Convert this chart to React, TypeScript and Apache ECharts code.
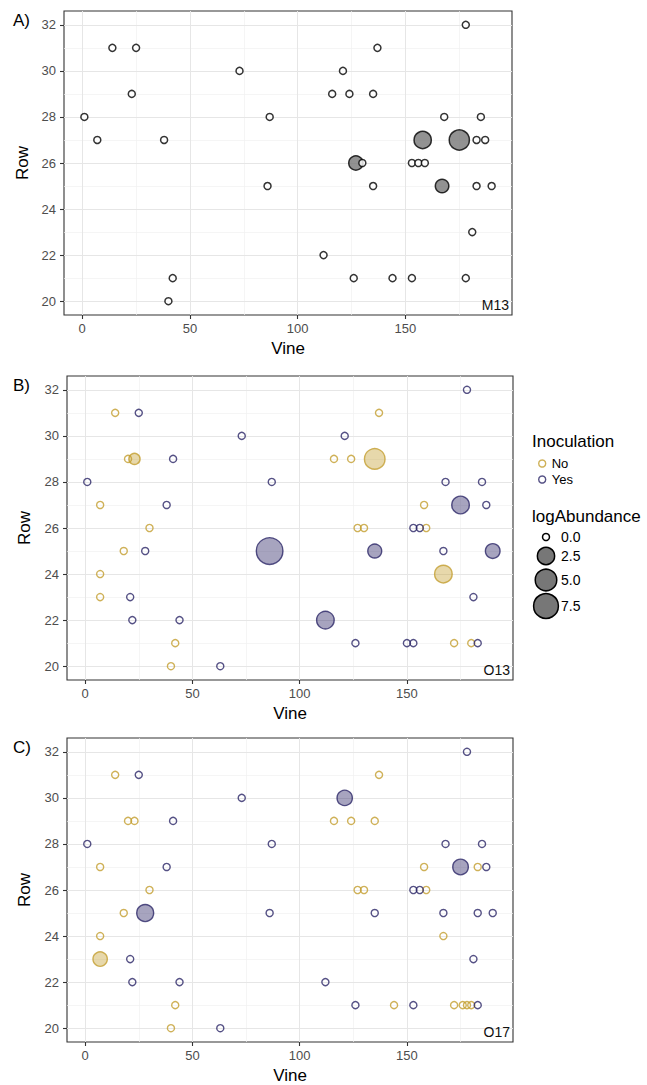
import { useEffect, useRef } from "react";
import * as echarts from "echarts";

// ---------- Panel A (M13) ----------
const vineA = [14, 25, 73, 23, 1, 87, 7, 38, 86, 42, 40, 178, 137, 121, 116, 124, 135, 168, 185, 158, 175, 183, 187, 127, 130, 153, 156, 159, 135, 167, 183, 190, 181, 112, 126, 144, 153, 178];
const rowA = [31, 31, 30, 29, 28, 28, 27, 27, 25, 21, 20, 32, 31, 30, 29, 29, 29, 28, 28, 27, 27, 27, 27, 26, 26, 26, 26, 26, 25, 25, 25, 25, 23, 22, 21, 21, 21, 21];
const logA = [0, 0, 0, 0, 0, 0, 0, 0, 0, 0, 0, 0, 0, 0, 0, 0, 0, 0, 0, 2.5, 4.1, 0, 0, 1.25, 0, 0, 0, 0, 0, 1.0, 0, 0, 0, 0, 0, 0, 0, 0];

// ---------- Panel B (O13) ----------
const vineB = [14, 20, 23, 7, 30, 18, 7, 7, 42, 40, 137, 116, 124, 135, 158, 127, 130, 159, 167, 172, 180,
  25, 73, 41, 1, 87, 38, 28, 86, 21, 22, 44, 63, 178, 121, 168, 185, 175, 187, 153, 156, 135, 167, 190, 181, 112, 126, 150, 153, 183];
const rowB = [31, 29, 29, 27, 26, 25, 24, 23, 21, 20, 31, 29, 29, 29, 27, 26, 26, 26, 24, 21, 21,
  31, 30, 29, 28, 28, 27, 25, 25, 23, 22, 22, 20, 32, 30, 28, 28, 27, 27, 26, 26, 25, 25, 25, 23, 22, 21, 21, 21, 21];
const logB = [0, 0, 0.4, 0, 0, 0, 0, 0, 0, 0, 0, 0, 0, 4.3, 0, 0, 0, 0, 2.6, 0, 0,
  0, 0, 0, 0, 0, 0, 0, 9, 0, 0, 0, 0, 0, 0, 0, 0, 2.6, 0, 0, 0, 1.1, 0, 1.35, 0, 2.6, 0, 0, 0, 0];
const inocB = ["No", "No", "No", "No", "No", "No", "No", "No", "No", "No", "No", "No", "No", "No", "No", "No", "No", "No", "No", "No", "No",
  "Yes", "Yes", "Yes", "Yes", "Yes", "Yes", "Yes", "Yes", "Yes", "Yes", "Yes", "Yes", "Yes", "Yes", "Yes", "Yes", "Yes", "Yes", "Yes", "Yes", "Yes", "Yes", "Yes", "Yes", "Yes", "Yes", "Yes", "Yes", "Yes"];

// ---------- Panel C (O17) ----------
const vineC = [14, 20, 23, 7, 30, 18, 7, 7, 42, 40, 137, 116, 124, 135, 158, 183, 127, 130, 159, 167, 144, 172, 176, 178, 180,
  25, 73, 41, 1, 87, 38, 28, 86, 21, 22, 44, 63, 178, 121, 168, 185, 175, 187, 153, 156, 135, 167, 183, 190, 181, 112, 126, 153, 183];
const rowC = [31, 29, 29, 27, 26, 25, 24, 23, 21, 20, 31, 29, 29, 29, 27, 27, 26, 26, 26, 24, 21, 21, 21, 21, 21,
  31, 30, 29, 28, 28, 27, 25, 25, 23, 22, 22, 20, 32, 30, 28, 28, 27, 27, 26, 26, 25, 25, 25, 25, 23, 22, 21, 21, 21];
const logC = [0, 0, 0, 0, 0, 0, 0, 1.25, 0, 0, 0, 0, 0, 0, 0, 0, 0, 0, 0, 0, 0, 0, 0, 0, 0,
  0, 0, 0, 0, 0, 0, 2.3, 0, 0, 0, 0, 0, 0, 1.6, 0, 0, 1.7, 0, 0, 0, 0, 0, 0, 0, 0, 0, 0, 0, 0];
const inocC = ["No", "No", "No", "No", "No", "No", "No", "No", "No", "No", "No", "No", "No", "No", "No", "No", "No", "No", "No", "No", "No", "No", "No", "No", "No",
  "Yes", "Yes", "Yes", "Yes", "Yes", "Yes", "Yes", "Yes", "Yes", "Yes", "Yes", "Yes", "Yes", "Yes", "Yes", "Yes", "Yes", "Yes", "Yes", "Yes", "Yes", "Yes", "Yes", "Yes", "Yes", "Yes", "Yes", "Yes", "Yes"];

// ---------- axes / legend ----------
const xMajor = [0, 50, 100, 150];
const xMinor = [25, 75, 125, 175];
const yMajor = [20, 22, 24, 26, 28, 30, 32];
const yMinor = [21, 23, 25, 27, 29, 31];
const inocLevels = ["No", "Yes"];
const sizeBreaks = [0, 2.5, 5, 7.5];
const sizeBreakLabels = ["0.0", "2.5", "5.0", "7.5"];
const panelTags = ["A)", "B)", "C)"];
const siteLabels = ["M13", "O13", "O17"];

const X_MIN = -8.45;
const X_MAX = 199.45;
const Y_MIN = 19.4;
const Y_MAX = 32.6;

const FONT = '"Liberation Sans", Arial, Helvetica, sans-serif';
const STROKE: Record<string, string> = { No: "#c39e2e", Yes: "#2b2566" };
const FILL: Record<string, string> = { No: "rgba(195,158,46,0.5)", Yes: "rgba(43,37,102,0.52)" };
const SW = 1.4;
const diam = (v: number) => 8.5 + 6.5 * Math.sqrt(v);

const grids = [
  { left: 64, top: 11, width: 448, height: 304 },
  { left: 67, top: 376, width: 446, height: 304 },
  { left: 67, top: 738, width: 446, height: 304 },
];

function buildItems(vines: number[], rows: number[], logs: number[], stroke: string, fill: string, emptyFill: string, keep: (i: number) => boolean, sw: number) {
  const items: any[] = [];
  vines.forEach((v, i) => {
    if (!keep(i)) return;
    const l = logs[i];
    items.push({
      value: [v, rows[i], l],
      symbolSize: diam(l) - sw,
      itemStyle: { color: l > 0 ? fill : emptyFill, borderColor: stroke, borderWidth: sw },
    });
  });
  items.sort((a, b) => b.value[2] - a.value[2]);
  return items;
}

function buildOption() {
  const xAxis = grids.map((_, i) => ({
    type: "value",
    gridIndex: i,
    min: X_MIN,
    max: X_MAX,
    name: "Vine",
    nameLocation: "middle",
    nameGap: 25,
    nameTextStyle: { fontSize: 17, color: "#000", fontFamily: FONT },
    axisLine: { show: false, onZero: false },
    axisTick: { show: true, length: 4, customValues: xMajor, lineStyle: { color: "#333", width: 1.1 } },
    axisLabel: { customValues: xMajor, color: "#4d4d4d", fontSize: 13, fontFamily: FONT, margin: 7 },
    splitLine: { show: false },
  }));
  const yAxis = grids.map((_, i) => ({
    type: "value",
    gridIndex: i,
    min: Y_MIN,
    max: Y_MAX,
    name: "Row",
    nameLocation: "middle",
    nameRotate: 90,
    nameGap: i === 0 ? 31 : 34,
    nameTextStyle: { fontSize: 17, color: "#000", fontFamily: FONT },
    axisLine: { show: false, onZero: false },
    axisTick: { show: true, length: 4, customValues: yMajor, lineStyle: { color: "#333", width: 1.1 } },
    axisLabel: { customValues: yMajor, color: "#4d4d4d", fontSize: 13, fontFamily: FONT, margin: 8 },
    splitLine: { show: false },
  }));

  const major = { color: "#e6e6e6", width: 1, type: "solid" };
  const minor = { color: "#f1f1f1", width: 0.7, type: "solid" };
  const gridLineData = [
    ...xMinor.map((v) => ({ xAxis: v, lineStyle: minor })),
    ...yMinor.map((v) => ({ yAxis: v, lineStyle: minor })),
    ...xMajor.map((v) => ({ xAxis: v, lineStyle: major })),
    ...yMajor.map((v) => ({ yAxis: v, lineStyle: major })),
  ];

  const series: any[] = [];
  grids.forEach((_, i) => {
    series.push({
      type: "scatter",
      name: "grid" + i,
      xAxisIndex: i,
      yAxisIndex: i,
      data: [],
      silent: true,
      z: 1,
      markLine: {
        silent: true,
        z: 1,
        symbol: ["none", "none"],
        label: { show: false },
        animation: false,
        data: gridLineData,
      },
    });
  });

  series.push({
    type: "scatter",
    name: "M13",
    xAxisIndex: 0,
    yAxisIndex: 0,
    z: 3,
    data: buildItems(vineA, rowA, logA, "#000", "#777777", "#ffffff", () => true, 1.5),
  });

  const panels = [
    { idx: 1, vines: vineB, rows: rowB, logs: logB, inoc: inocB },
    { idx: 2, vines: vineC, rows: rowC, logs: logC, inoc: inocC },
  ];
  panels.forEach((p) => {
    inocLevels.forEach((lvl) => {
      series.push({
        type: "scatter",
        name: lvl,
        xAxisIndex: p.idx,
        yAxisIndex: p.idx,
        z: 3,
        itemStyle: { color: "rgba(255,255,255,0)", borderColor: STROKE[lvl], borderWidth: SW },
        data: buildItems(p.vines, p.rows, p.logs, STROKE[lvl], FILL[lvl], "rgba(255,255,255,0)", (i) => p.inoc[i] === lvl, SW),
      });
    });
  });

  const graphics: any[] = [];
  grids.forEach((g, i) => {
    graphics.push({
      type: "text",
      z: 20,
      x: 13,
      y: g.top + 9,
      style: { text: panelTags[i], fontSize: 17, fontFamily: FONT, fill: "#000", textAlign: "left", textVerticalAlign: "middle" },
    });
    graphics.push({
      type: "text",
      z: 20,
      x: g.left + g.width - 3,
      y: g.top + g.height - 10,
      style: { text: siteLabels[i], fontSize: 14, fontFamily: FONT, fill: "#111", textAlign: "right", textVerticalAlign: "middle" },
    });
  });

  graphics.push({
    type: "text",
    z: 20,
    x: 532,
    y: 441,
    style: { text: "Inoculation", fontSize: 17, fontFamily: FONT, fill: "#000", textAlign: "left", textVerticalAlign: "middle" },
  });
  graphics.push({
    type: "text",
    z: 20,
    x: 532,
    y: 516,
    style: { text: "logAbundance", fontSize: 17, fontFamily: FONT, fill: "#000", textAlign: "left", textVerticalAlign: "middle" },
  });
  const keyY = [537, 556, 580, 606];
  sizeBreaks.forEach((b, k) => {
    graphics.push({
      type: "circle",
      z: 20,
      shape: { cx: 546, cy: keyY[k], r: (diam(b) - 1.5) / 2 },
      style: { fill: b > 0 ? "#777777" : "#ffffff", stroke: "#000", lineWidth: 1.5 },
    });
    graphics.push({
      type: "text",
      z: 20,
      x: 561,
      y: keyY[k],
      style: { text: sizeBreakLabels[k], fontSize: 14, fontFamily: FONT, fill: "#000", textAlign: "left", textVerticalAlign: "middle" },
    });
  });

  return {
    animation: false,
    backgroundColor: "#ffffff",
    textStyle: { fontFamily: FONT },
    grid: grids.map((g) => ({ ...g, show: true, borderColor: "#333", borderWidth: 1.1, backgroundColor: "#ffffff" })),
    xAxis,
    yAxis,
    legend: {
      data: inocLevels.map((l) => ({
        name: l,
        icon: "circle",
        itemStyle: { color: "rgba(255,255,255,0)", borderColor: STROKE[l], borderWidth: 1.4 },
      })),
      orient: "vertical",
      left: 533,
      top: 452,
      itemWidth: 7,
      itemHeight: 7,
      itemGap: 3,
      selectedMode: false,
      textStyle: { fontSize: 13, fontFamily: FONT, color: "#000", padding: [0, 0, 0, 1] },
    },
    graphic: graphics,
    series,
  };
}

export default function App() {
  const ref = useRef<HTMLDivElement>(null);
  useEffect(() => {
    if (!ref.current) return;
    const chart = echarts.init(ref.current, null, { renderer: "svg" });
    chart.setOption(buildOption() as any);
    return () => chart.dispose();
  }, []);
  return <div ref={ref} style={{ position: "absolute", left: 0, top: 0, width: 647, height: 1085 }} />;
}
